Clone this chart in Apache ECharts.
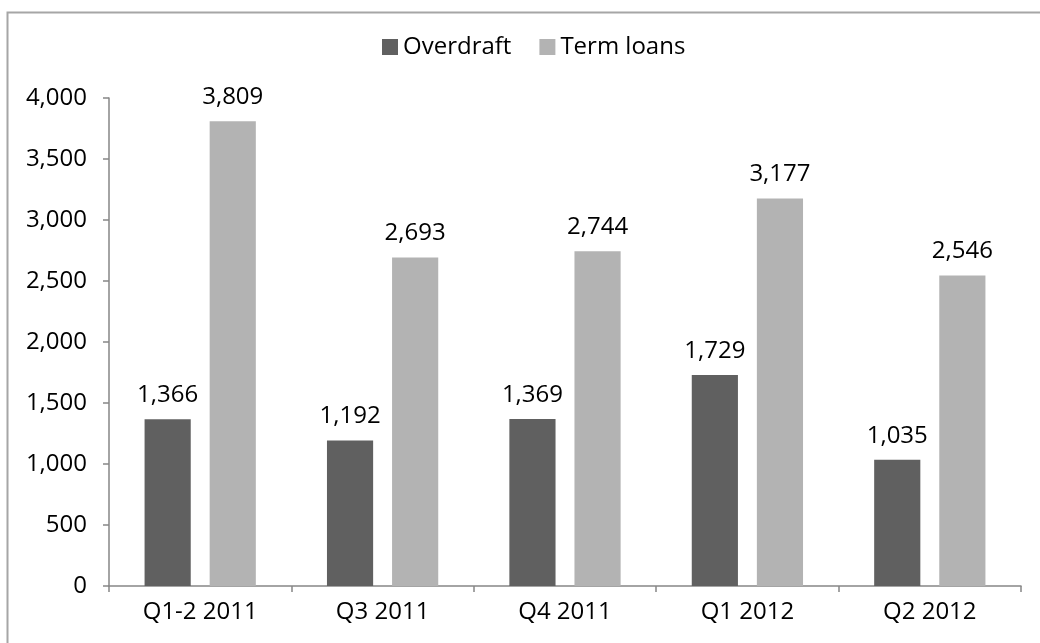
<!DOCTYPE html>
<html>
<head>
<meta charset="utf-8">
<script src="https://cdn.jsdelivr.net/npm/echarts@6/dist/echarts.min.js"></script>
<style>
html,body{margin:0;padding:0;background:#fff;}
#chart{width:1040px;height:643px;}
</style>
</head>
<body>
<div id="chart"></div>
<script>
const categories = ['Q1-2 2011', 'Q3 2011', 'Q4 2011', 'Q1 2012', 'Q2 2012'];
const overdraft = [1366, 1192, 1369, 1729, 1035];
const termLoans = [3809, 2693, 2744, 3177, 2546];
const yTicks = [0, 500, 1000, 1500, 2000, 2500, 3000, 3500, 4000];

const FONT = '"Open Sans", sans-serif';
const chart = echarts.init(document.getElementById('chart'), null, {renderer: 'canvas'});
const fmt = v => v.toLocaleString('en-US');
const labelCfg = {
  show: true, position: 'top', distance: 12,
  fontFamily: FONT, fontSize: 24, color: '#000',
  formatter: p => fmt(p.value)
};
chart.setOption({
  animation: false,
  backgroundColor: '#fff',
  graphic: [{
    type: 'rect', left: 5, top: 10, silent: true,
    shape: {width: 1100, height: 700},
    style: {fill: 'none', stroke: '#a6a6a6', lineWidth: 2}
  }],
  legend: {
    top: 30, left: 377,
    itemWidth: 16, itemHeight: 16, itemGap: 28,
    icon: 'rect',
    textStyle: {fontFamily: FONT, fontSize: 24, color: '#000', padding: [0, 0, 0, 0]},
    data: ['Overdraft', 'Term loans']
  },
  grid: {left: 109, right: 19, top: 98, bottom: 57, containLabel: false},
  xAxis: {
    type: 'category', data: categories,
    axisLine: {lineStyle: {color: '#868686', width: 1.5}},
    axisTick: {show: true, length: 6, alignWithLabel: false, lineStyle: {color: '#868686', width: 1.5}},
    axisLabel: {fontFamily: FONT, fontSize: 24, color: '#000', margin: 14}
  },
  yAxis: {
    type: 'value', min: yTicks[0], max: yTicks[yTicks.length - 1], interval: 500,
    axisLine: {show: true, lineStyle: {color: '#868686', width: 1.5}},
    axisTick: {show: true, length: 6, lineStyle: {color: '#868686', width: 1.5}},
    splitLine: {show: false},
    axisLabel: {fontFamily: FONT, fontSize: 24, color: '#000', margin: 22, formatter: v => fmt(v)}
  },
  series: [
    {name: 'Overdraft', type: 'bar', data: overdraft, barGap: '41%', barCategoryGap: '39%',
     itemStyle: {color: '#606060'}, label: labelCfg},
    {name: 'Term loans', type: 'bar', data: termLoans,
     itemStyle: {color: '#b3b3b3'}, label: labelCfg}
  ]
});
</script>
</body>
</html>
